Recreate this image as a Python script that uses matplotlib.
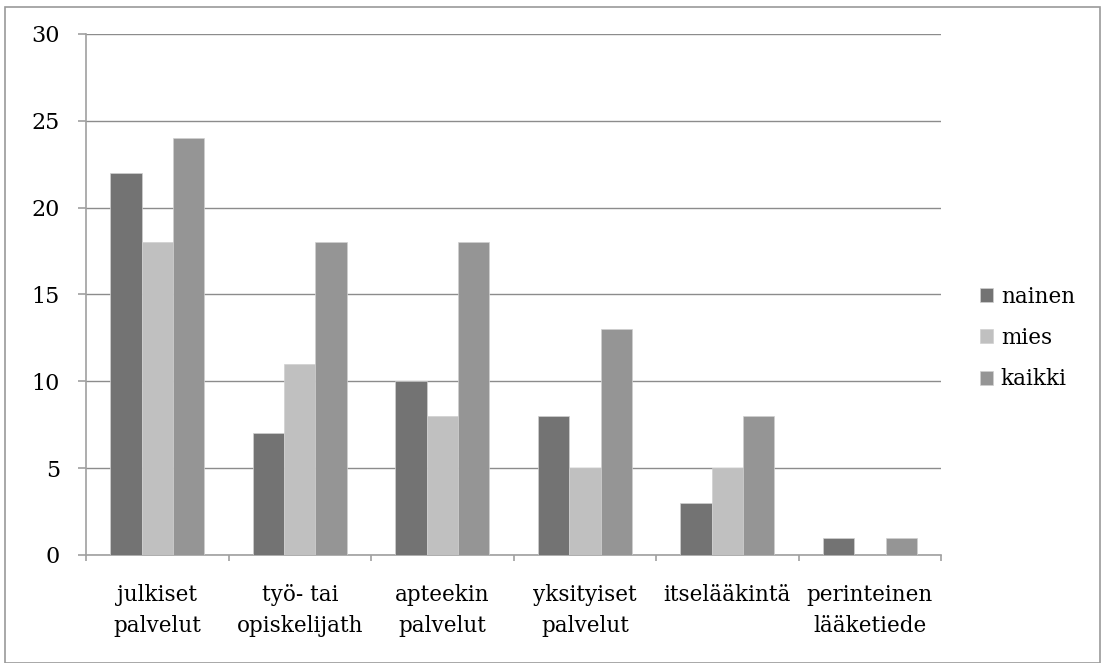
import matplotlib
matplotlib.use("Agg")
import matplotlib.pyplot as plt
import numpy as np
from matplotlib.patches import Rectangle

categories = ["julkiset\npalvelut", "työ- tai\nopiskelijath", "apteekin\npalvelut",
              "yksityiset\npalvelut", "itselääkintä", "perinteinen\nlääketiede"]
series_names = ["nainen", "mies", "kaikki"]
nainen = [22, 7, 10, 8, 3, 1]
mies = [18, 11, 8, 5, 5, 0]
kaikki = [24, 18, 18, 13, 8, 1]
colors = ["#737373", "#c0c0c0", "#959595"]

plt.rcParams['font.family'] = ['DejaVu Serif']
fig = plt.figure(figsize=(11.05, 6.63), dpi=100)
ax = fig.add_axes([0.0778, 0.163, 0.774, 0.786])

x = np.arange(len(categories))
w = 0.22
for i, (vals, name) in enumerate(zip([nainen, mies, kaikki], series_names)):
    ax.bar(x + (i - 1) * w, vals, width=w, color=colors[i], label=name,
           edgecolor="#d0d0d0", linewidth=0.5, zorder=3)

ax.set_xlim(-0.5, len(categories) - 0.5)
ax.set_ylim(0, 30)
ax.set_yticks(range(0, 31, 5))
ax.yaxis.grid(True, color="#8c8c8c", linewidth=1.0, zorder=0)
ax.set_axisbelow(True)
for s in ["top", "right"]:
    ax.spines[s].set_visible(False)
ax.spines["left"].set_color("#a0a0a0")
ax.spines["bottom"].set_color("#a0a0a0")
ax.spines["left"].set_linewidth(1.2)
ax.spines["bottom"].set_linewidth(1.2)

ax.set_xticks(x)
ax.set_xticklabels(categories, fontsize=15.5, linespacing=1.55)
ax.tick_params(axis="x", length=0, pad=21)
ax.set_xticks(np.arange(-0.5, len(categories), 1.0), minor=True)
ax.tick_params(axis="x", which="minor", length=4.5, color="#a0a0a0", width=1.2)
ax.tick_params(axis="y", length=5.8, color="#a0a0a0", width=1.2, labelsize=16, pad=13)

leg = ax.legend(loc="center left", bbox_to_anchor=(1.023, 0.4165), frameon=False,
                fontsize=15.5, handlelength=0.6, handleheight=0.6, handletextpad=0.35,
                labelspacing=0.9)

fig.patches.append(Rectangle((5 / 1105, 0.0), 1095 / 1105, 1 - 7 / 663,
                             transform=fig.transFigure, fill=False,
                             edgecolor="#9a9a9a", linewidth=1.2))
fig.savefig("out.png", dpi=100)
